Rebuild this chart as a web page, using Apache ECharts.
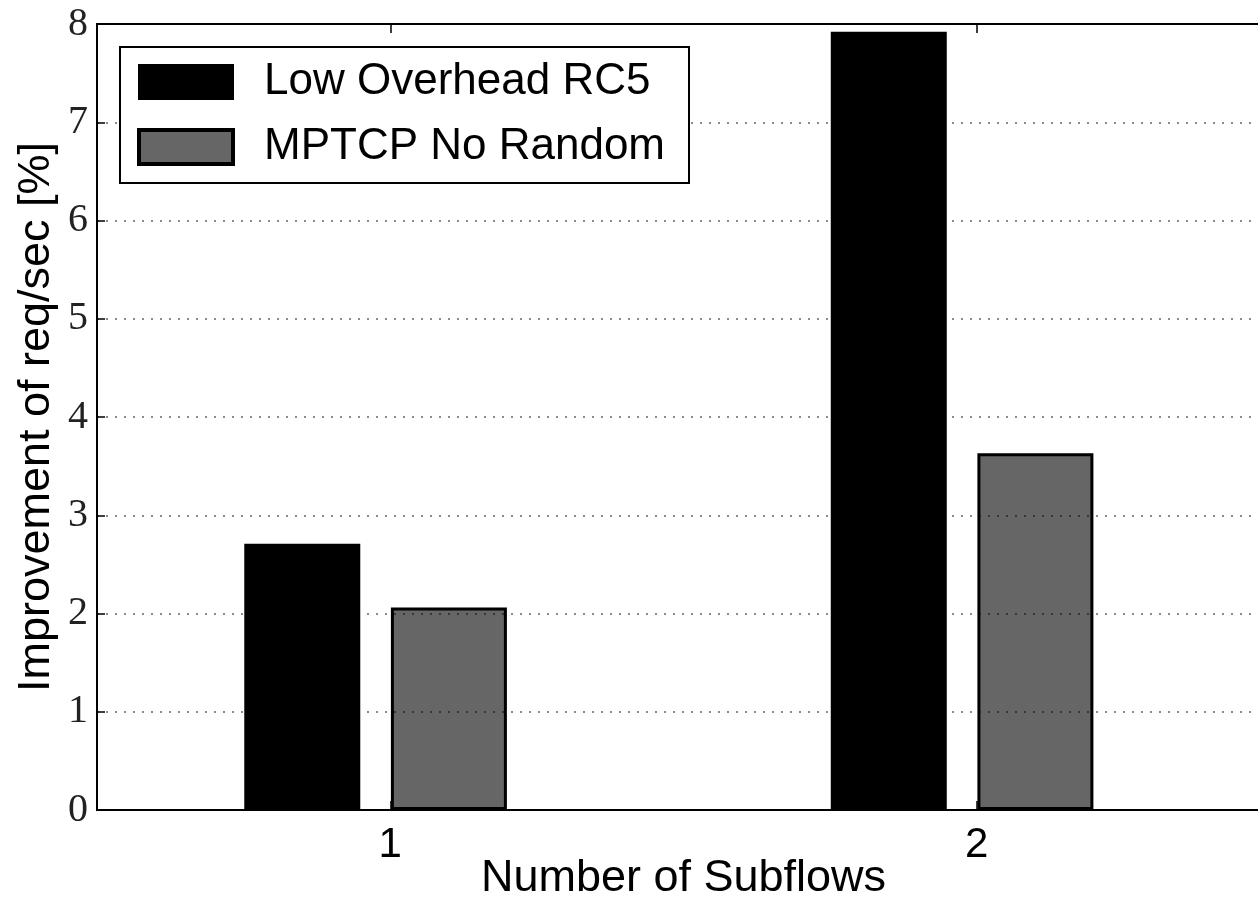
<!DOCTYPE html>
<html><head><meta charset="utf-8">
<script src="https://cdn.jsdelivr.net/npm/echarts@6/dist/echarts.min.js"></script>
<style>html,body{margin:0;padding:0;background:#fff}#c{width:1258px;height:900px}</style>
</head><body><div id="c"></div>
<script>
// ---- data ----
const subflows = [1, 2];
const seriesNames = ['Low Overhead RC5', 'MPTCP No Random'];
const lowOverheadRC5 = [2.71, 7.92];
const mptcpNoRandom = [2.06, 3.63];
const yTicks = [0, 1, 2, 3, 4, 5, 6, 7, 8];
const xTitle = 'Number of Subflows';
const yTitle = 'Improvement of req/sec [%]';
// bar centre relative to each tick position (edge-aligned bars as in the source plot)
const offsetBlack = -0.15, offsetGray = 0.1;

const sans = '"Liberation Sans", Arial, Helvetica, sans-serif';
const serif = '"Liberation Serif", "Times New Roman", serif';

const chart = echarts.init(document.getElementById('c'), null, {renderer: 'canvas'});
chart.setOption({
  animation: false,
  backgroundColor: '#fff',
  grid: {left: 97, top: 24, right: -12, bottom: 90, outerBoundsMode: 'none', containLabel: false,
    show: true, borderColor: '#000', borderWidth: 2, backgroundColor: 'transparent'},
  legend: {
    orient: 'vertical', left: 120, top: 47,
    padding: [13, 24, 14, 17],
    borderColor: '#000', borderWidth: 2, backgroundColor: '#fff',
    itemWidth: 94, itemHeight: 34, itemGap: 21,
    selectedMode: false,
    textStyle: {fontFamily: sans, fontSize: 44, color: '#000', lineHeight: 44, padding: [0, 0, 0, 26]},
    data: [
      {name: seriesNames[0], icon: 'rect', itemStyle: {color: '#000', borderColor: '#000', borderWidth: 2}},
      {name: seriesNames[1], icon: 'rect', itemStyle: {color: '#666', borderColor: '#000', borderWidth: 4}}
    ]
  },
  xAxis: [{
    type: 'value', min: 0.5, max: 2.5, position: 'bottom',
    name: xTitle, nameLocation: 'middle', nameGap: 46, nameMoveOverlap: false,
    nameTextStyle: {fontFamily: sans, fontSize: 45, color: '#000'},
    axisLine: {show: true, lineStyle: {color: '#000', width: 2}},
    axisTick: {show: true, inside: true, length: 9, customValues: subflows, lineStyle: {color: '#000', width: 1.5}},
    axisLabel: {show: true, customValues: subflows, fontFamily: sans, fontSize: 42, color: '#000', margin: 14},
    splitLine: {show: false}
  }, {
    type: 'value', min: 0.5, max: 2.5, position: 'top',
    axisLine: {show: true, lineStyle: {color: '#000', width: 2}},
    axisTick: {show: true, inside: true, length: 9, customValues: subflows, lineStyle: {color: '#000', width: 1.5}},
    axisLabel: {show: false},
    splitLine: {show: false}
  }],
  yAxis: {
    type: 'value', min: yTicks[0], max: yTicks[yTicks.length - 1], interval: 1,
    name: yTitle, nameLocation: 'middle', nameGap: 38, nameRotate: 90, nameMoveOverlap: false,
    nameTextStyle: {fontFamily: sans, fontSize: 45, color: '#000'},
    axisLine: {show: true, lineStyle: {color: '#000', width: 2}},
    axisTick: {show: true, inside: true, length: 8, lineStyle: {color: '#000', width: 1.5}},
    axisLabel: {fontFamily: serif, fontSize: 40, color: '#222', margin: 9},
    splitLine: {show: true, lineStyle: {color: '#666', width: 1.5, type: [2, 7]}}
  },
  series: [{
    name: seriesNames[0], type: 'bar', xAxisIndex: 0,
    barWidth: 116, barGap: '-100%',
    itemStyle: {color: '#000', borderColor: '#000', borderWidth: 3},
    data: lowOverheadRC5.map((v, i) => [subflows[i] + offsetBlack, v])
  }, {
    name: seriesNames[1], type: 'bar', xAxisIndex: 0,
    barWidth: 116, barGap: '-100%',
    itemStyle: {color: 'rgba(0,0,0,0.6)', borderColor: '#000', borderWidth: 3},
    data: mptcpNoRandom.map((v, i) => [subflows[i] + offsetGray, v])
  }]
});
</script>
</body></html>
